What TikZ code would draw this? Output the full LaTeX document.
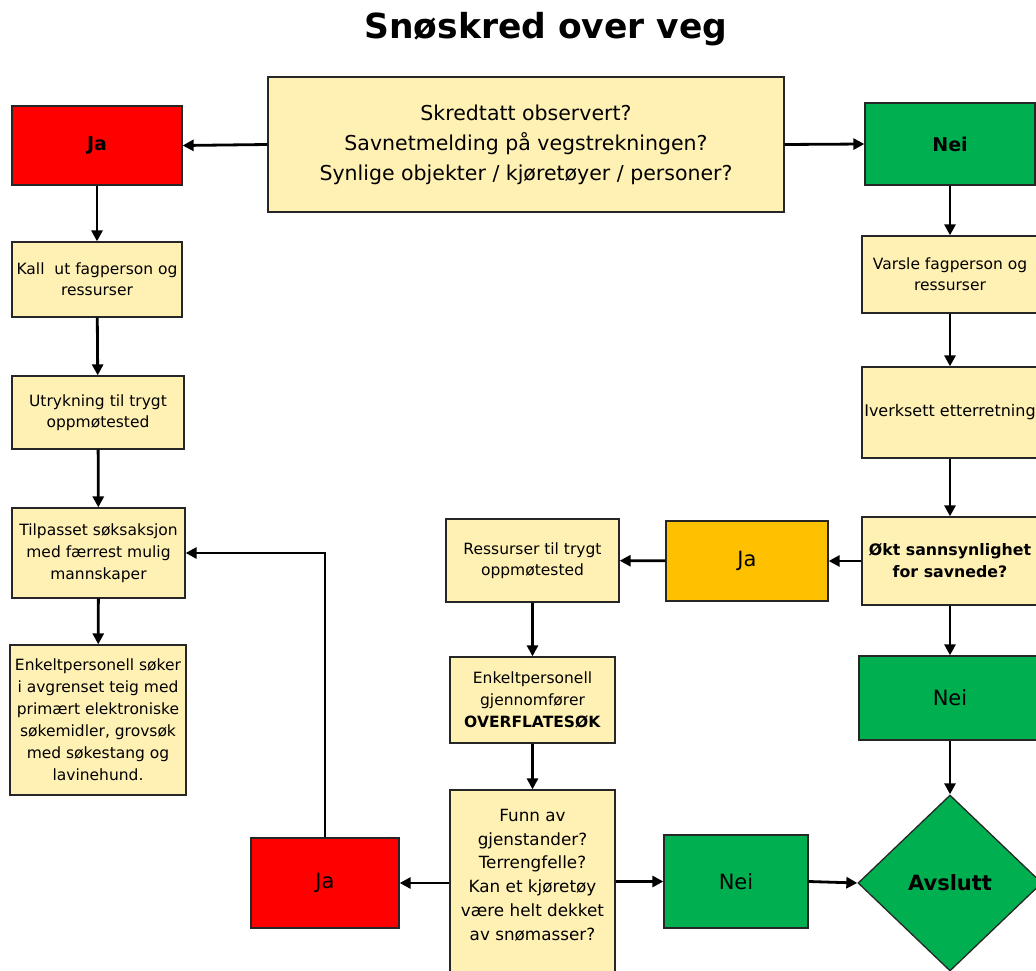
\documentclass[tikz,border=0pt]{standalone}
\usepackage{fontspec}
\setmainfont{DejaVu Sans}
\usetikzlibrary{arrows.meta,shapes.geometric}
\definecolor{yel}{RGB}{255,241,180}
\definecolor{grn}{RGB}{0,176,80}
\definecolor{rd}{RGB}{255,0,0}
\definecolor{org}{RGB}{255,192,0}
\tikzset{
  box/.style={draw=black!85, line width=1.3pt, fill=yel, align=center, inner sep=0pt, font=\fontsize{15.5}{21}\selectfont},
  arr/.style={line width=2.8pt, -{Triangle[length=11pt,width=11pt]}},
}
\begin{document}
\begin{tikzpicture}[x=1pt,y=-1pt]
\useasboundingbox (0,0) rectangle (1036,971);
\clip (0,0) rectangle (1036,971);
\node (title) at (546,29) {\fontsize{34.5}{40}\selectfont\bfseries Snøskred over veg};
\node[box, minimum width=516, minimum height=135, font=\fontsize{20.5}{30}\selectfont] (top) at (526,144.5) {Skredtatt observert?\\Savnetmelding på vegstrekningen?\\Synlige objekter / kjøretøyer / personer?};
\node[box, fill=rd, minimum width=170, minimum height=79, font=\fontsize{19}{24}\selectfont\bfseries] (jatop) at (97,145.5) {Ja};
\node[box, fill=grn, minimum width=170, minimum height=82, font=\fontsize{19}{24}\selectfont\bfseries] (neitop) at (950,144) {Nei};
\node[box, minimum width=170, minimum height=75] (kall) at (97,279.5) {Kall~ ut fagperson og\\ressurser};
\node[box, minimum width=172, minimum height=73] (utr) at (98,412.5) {Utrykning til trygt\\oppmøtested};
\node[box, minimum width=173, minimum height=90, font=\fontsize{15.5}{22}\selectfont] (tilp) at (98.5,553) {Tilpasset søksaksjon\\med færrest mulig\\mannskaper};
\node[box, minimum width=176, minimum height=150, font=\fontsize{15.5}{22}\selectfont] (enk1) at (98,720) {Enkeltpersonell søker\\i avgrenset teig med\\primært elektroniske\\søkemidler, grovsøk\\med søkestang og\\lavinehund.};
\node[box, minimum width=176, minimum height=77] (varsle) at (950,274.5) {Varsle fagperson og\\ressurser};
\node[box, minimum width=176, minimum height=91, font=\fontsize{16}{21}\selectfont] (iverk) at (950,412.5) {Iverksett etterretning};
\node[box, minimum width=176, minimum height=88, font=\fontsize{15.8}{22}\selectfont\bfseries] (okt) at (950,561) {Økt sannsynlighet\\for savnede?};
\node[box, fill=org, minimum width=162, minimum height=80, font=\fontsize{21}{24}\selectfont] (jaor) at (747,561) {Ja};
\node[box, minimum width=173, minimum height=83] (ress) at (532.5,560.5) {Ressurser til trygt\\oppmøtested};
\node[box, minimum width=165, minimum height=86, font=\fontsize{15.5}{22}\selectfont] (enk2) at (532.5,700) {Enkeltpersonell\\gjennomfører\\\textbf{OVERFLATESØK}};
\node[box, minimum width=165, minimum height=182, font=\fontsize{16.8}{23.8}\selectfont] (funn) at (532.5,881) {Funn av\\gjenstander?\\Terrengfelle?\\Kan et kjøretøy\\være helt dekket\\av snømasser?\\[-11pt]};
\node[box, fill=rd, minimum width=148, minimum height=90, font=\fontsize{21}{24}\selectfont] (jabot) at (325,883) {Ja};
\node[box, fill=grn, minimum width=144, minimum height=93, font=\fontsize{21}{24}\selectfont] (neibot) at (736,881.5) {Nei};
\node[box, fill=grn, minimum width=182, minimum height=84, font=\fontsize{21}{24}\selectfont] (neir) at (950,698) {Nei};
\node[diamond, draw=black!85, line width=1.3pt, fill=grn, inner sep=0pt, minimum width=184, minimum height=176, font=\fontsize{21}{24}\selectfont\bfseries] (avs) at (950,883) {Avslutt};
% connectors
\draw[arr] (top.west) -- (jatop.east);
\draw[arr] (top.east) -- (neitop.west);
\draw[arr] (jatop) -- (kall);
\draw[arr] (kall) -- (utr);
\draw[arr] (utr) -- (tilp);
\draw[arr] (tilp) -- (enk1);
\draw[arr] (neitop) -- (varsle);
\draw[arr] (varsle) -- (iverk);
\draw[arr] (iverk) -- (okt);
\draw[arr] (okt) -- (jaor);
\draw[arr] (jaor) -- (ress);
\draw[arr] (okt) -- (neir);
\draw[arr] (neir) -- (avs);
\draw[arr] (ress) -- (enk2);
\draw[arr] (enk2) -- (funn);
\draw[arr] (funn.west |- jabot.east) -- (jabot.east);
\draw[arr] (funn.east |- neibot.west) -- (neibot.west);
\draw[arr] (neibot.east) -- (avs.west);
\draw[arr] (jabot.north) |- (tilp.east);
\end{tikzpicture}
\end{document}
